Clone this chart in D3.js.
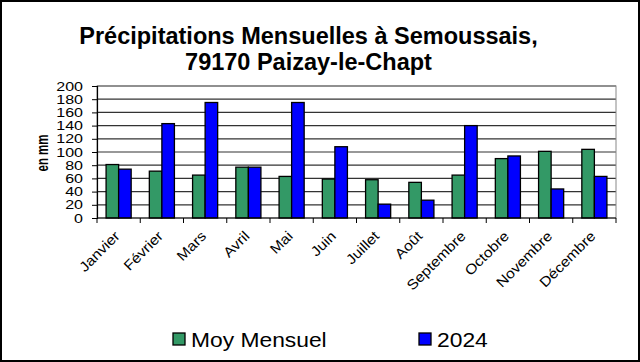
<!DOCTYPE html>
<html><head><meta charset="utf-8">
<script src="https://cdn.jsdelivr.net/npm/d3@7"></script>
<style>body{margin:0;background:#fff;} svg{display:block;font-family:"Liberation Sans",Arial,sans-serif;}</style>
</head><body>
<script>
const months = ["Janvier","Février","Mars","Avril","Mai","Juin","Juillet","Août","Septembre","Octobre","Novembre","Décembre"];
const moyMensuel = [81, 71, 65, 77, 63, 59, 58, 54, 65, 90, 101, 104];
const val2024 = [74, 143, 175, 77, 175, 108, 21, 27, 140, 94, 44, 63];
const seriesNames = ["Moy Mensuel", "2024"];
const seriesColors = ["#339966", "#0000FF"];
const yTicks = [0,20,40,60,80,100,120,140,160,180,200];

const W = 640, H = 362;
const m = {left: 97, right: 24, top: 86, bottom: 144};
const svg = d3.select("body").append("svg").attr("width", W).attr("height", H);
svg.append("rect").attr("x",1).attr("y",1).attr("width",W-2).attr("height",H-2)
  .attr("fill","#fff").attr("stroke","#000").attr("stroke-width",2);

function stretch(sel, k) {
  sel.each(function() {
    const L = this.getComputedTextLength();
    d3.select(this).attr("textLength", L * k).attr("lengthAdjust", "spacingAndGlyphs");
  });
}

const x = d3.scaleBand().domain(months).range([m.left, W - m.right]).paddingInner(0.42).paddingOuter(0.21);
const xs = d3.scaleBand().domain(seriesNames).range([0, x.bandwidth()]);
const y = d3.scaleLinear().domain([0, 200]).range([H - m.bottom, m.top]);

// gridlines
svg.append("g").selectAll("line").data(yTicks.slice(1)).join("line")
  .attr("x1", m.left).attr("x2", W - m.right)
  .attr("y1", d => y(d)).attr("y2", d => y(d))
  .attr("stroke", "#333").attr("stroke-width", 1.2);
// plot border
svg.append("rect").attr("x", m.left).attr("y", m.top).attr("width", W - m.right - m.left).attr("height", H - m.bottom - m.top)
  .attr("fill","none").attr("stroke","#888").attr("stroke-width",1);

// bars
const data = months.map((mo,i) => ({mo, vals:[moyMensuel[i], val2024[i]]}));
const groups = svg.append("g").selectAll("g").data(data).join("g")
  .attr("transform", d => `translate(${x(d.mo)},0)`);
groups.selectAll("rect").data(d => d.vals.map((v,j) => ({v, s: seriesNames[j], c: seriesColors[j]}))).join("rect")
  .attr("x", d => xs(d.s)).attr("width", xs.bandwidth())
  .attr("y", d => y(d.v)).attr("height", d => y(0) - y(d.v))
  .attr("fill", d => d.c).attr("stroke", "#000").attr("stroke-width", 1.3);

// y axis
const yAxis = svg.append("g").attr("transform", `translate(${m.left},0)`)
  .call(d3.axisLeft(y).tickValues(yTicks).tickSize(5).tickPadding(9));
yAxis.select(".domain").attr("stroke","#000").attr("stroke-width",1.2);
yAxis.selectAll(".tick line").attr("stroke","#000");
yAxis.selectAll("text").attr("font-size", 12.5).attr("fill","#000").attr("font-family","Liberation Sans, Arial, sans-serif");
stretch(yAxis.selectAll("text"), 1.28);

// x axis
const bounds = months.map(mo => x(mo) - x.step()*x.paddingInner()/2).concat([W - m.right]);
const xAxisG = svg.append("g");
xAxisG.append("line").attr("x1", m.left).attr("x2", W - m.right).attr("y1", y(0)).attr("y2", y(0)).attr("stroke","#000").attr("stroke-width",1.2);
xAxisG.selectAll("line.t").data(bounds).join("line").attr("class","t")
  .attr("x1", d => d).attr("x2", d => d).attr("y1", y(0)).attr("y2", y(0)+5).attr("stroke","#000");
const xl = xAxisG.selectAll("text").data(months).join("text")
  .attr("transform", d => `translate(${x(d) + x.bandwidth()/2 + 2},${y(0) + 19}) rotate(-45)`)
  .attr("text-anchor","end").attr("font-size", 14).attr("fill","#000").text(d => d);
stretch(xl, 1.12);

// y label
const yl = svg.append("text").attr("transform", `translate(48,153) rotate(-90)`)
  .attr("text-anchor","middle").attr("font-weight","bold").attr("font-size",17).text("en mm");
yl.attr("textLength", 37).attr("lengthAdjust","spacingAndGlyphs");

// title
const title = svg.append("text").attr("text-anchor","middle").attr("font-weight","bold").attr("font-size",23.5);
title.append("tspan").attr("x", 308.5).attr("y", 43.5).text("Précipitations Mensuelles à Semoussais,");
title.append("tspan").attr("x", 308.5).attr("y", 70).text("79170 Paizay-le-Chapt");

// legend
const legX = [173, 419];
const leg = svg.append("g").selectAll("g").data(seriesNames).join("g")
  .attr("transform", (d,i) => `translate(${legX[i]},333)`);
leg.append("rect").attr("width", 12).attr("height", 12).attr("fill", (d,i) => seriesColors[i]).attr("stroke","#000").attr("stroke-width",1.3);
const lt = leg.append("text").attr("x", 18).attr("y", 13.5).attr("font-size", 19.5).text(d => d);
stretch(lt, 1.17);
</script>
</body></html>
